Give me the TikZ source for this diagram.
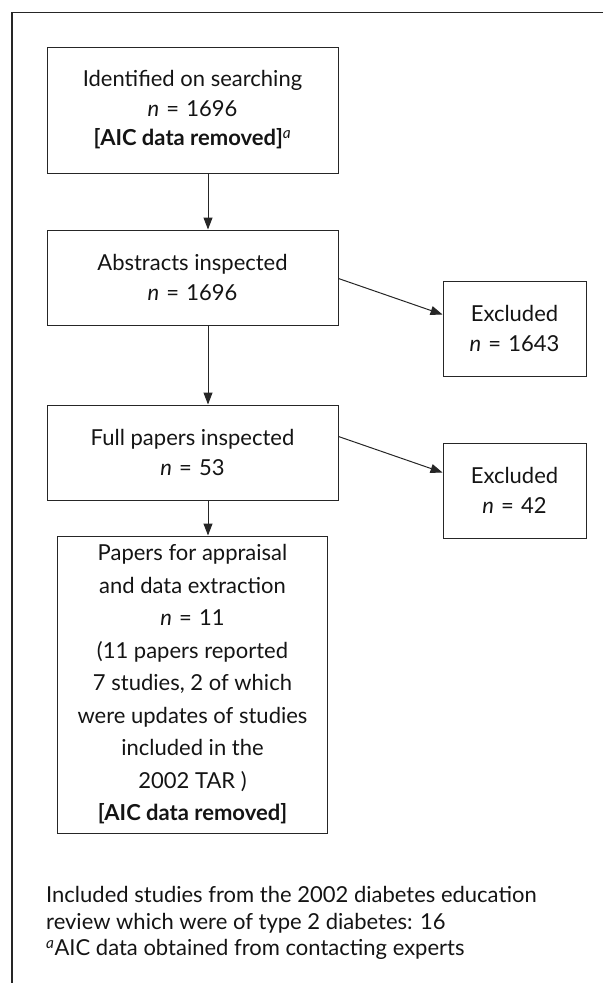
\documentclass[tikz,border=0pt]{standalone}
\usepackage{fontspec}
\setmainfont{Lato}
\usetikzlibrary{arrows.meta}
\newcommand{\nval}[1]{\textit{n}\hspace{0.33em}=\hspace{0.33em}#1}
\begin{document}
\begin{tikzpicture}[x=1pt,y=-1pt,
  box/.style={draw=black!85, line width=1pt, inner sep=0pt, align=center,
    font=\fontsize{22}{30}\selectfont, text=black!92},
  arr/.style={draw=black!85, line width=1pt, -{Triangle[length=12pt,width=9pt]}}]
\useasboundingbox (0,0) rectangle (603,983);
\coordinate (ftr) at (603,12.5);
\coordinate (ftl) at (12,12.5);
\coordinate (fbl) at (12,983);
\draw[black!85, line width=1.2pt] (ftr) -- (ftl) -- (fbl);

\node[box, font=\fontsize{22}{29.5}\selectfont, minimum width=291pt, minimum height=126pt] (b1) at (192.5,110)
  {Identified on searching\\ \nval{1696}\\ \textbf{[AIC data removed]}\textsuperscript{\normalfont\itshape a}};
\node[box, minimum width=291pt, minimum height=95pt] (b2) at (192.5,277.5)
  {Abstracts inspected\\ \nval{1696}};
\node[box, minimum width=291pt, minimum height=95pt] (b3) at (192.5,452.5)
  {Full papers inspected\\ \nval{53}};
\node[box, font=\fontsize{22}{32.5}\selectfont, minimum width=270pt, minimum height=297pt] (b4) at (192.5,684.5)
  {Papers for appraisal\\ and data extraction\\ \nval{11}\\ (11 papers reported\\ 7 studies, 2 of which\\ were updates of studies\\ included in the\\ 2002 TAR )\\ \textbf{[AIC data removed]}};
\node[box, minimum width=143pt, minimum height=95pt] (e1) at (514.5,328.5)
  {Excluded\\ \nval{1643}};
\node[box, minimum width=143pt, minimum height=95pt] (e2) at (514.5,490.5)
  {Excluded\\ \nval{42}};

\draw[arr] ([xshift=15.5pt]b1.south) -- ([xshift=15.5pt]b2.north);
\draw[arr] ([xshift=15.5pt]b2.south) -- ([xshift=15.5pt]b3.north);
\draw[arr] ([xshift=15.5pt]b3.south) -- ([xshift=15.5pt]b4.north);
\draw[arr] ([yshift=-49pt]b2.north east) -- ([yshift=-34pt]e1.north west);
\draw[arr] ([yshift=-32pt]b3.north east) -- ([yshift=-30pt]e2.north west);

\node[anchor=west, align=left, inner sep=0pt, text=black!92,
  font=\fontsize{22}{26.5}\selectfont] (foot) at (46,923)
  {Included studies from the 2002 diabetes education\\
   review which were of type 2 diabetes: 16\\
   \textsuperscript{\itshape a}AIC data obtained from contacting experts};
\end{tikzpicture}
\end{document}
